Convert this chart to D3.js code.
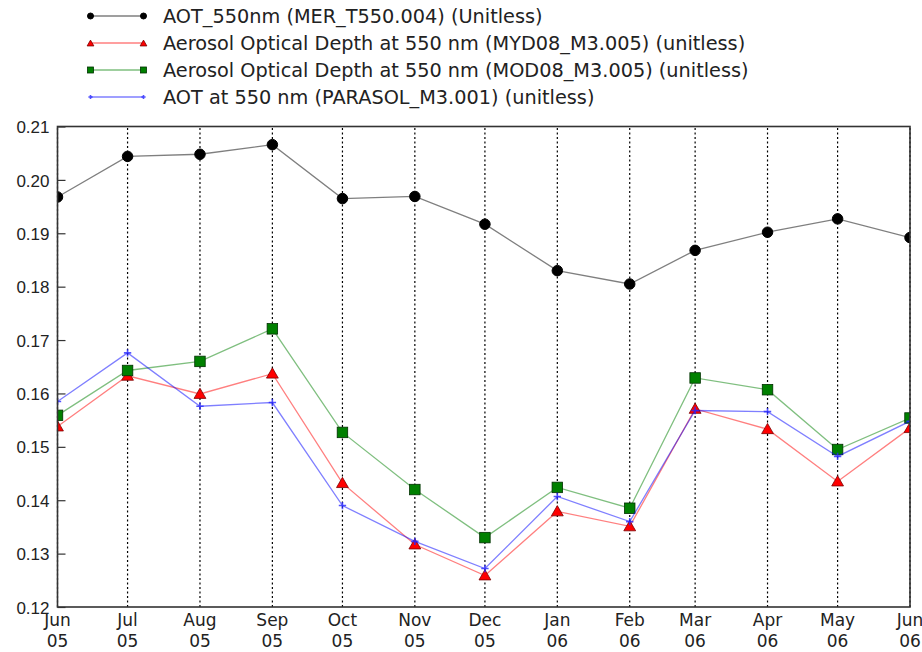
<!DOCTYPE html>
<html>
<head>
<meta charset="utf-8">
<script src="https://cdn.jsdelivr.net/npm/d3@7"></script>
<style>
  body { margin: 0; background: #fff; }
  svg { display: block; font-family: "DejaVu Sans", sans-serif; }
</style>
</head>
<body>
<div id="output"></div>
<script>
// monthly time steps (first of month)
const months = ["2005-06", "2005-07", "2005-08", "2005-09", "2005-10", "2005-11", "2005-12",
                "2006-01", "2006-02", "2006-03", "2006-04", "2006-05", "2006-06"];

// values
const merValues = [0.1968, 0.2044, 0.2048, 0.2066, 0.1965, 0.1969, 0.1917, 0.1830, 0.1805, 0.1868, 0.1902, 0.1927, 0.1892];
const mydValues = [0.1538, 0.1633, 0.1599, 0.1637, 0.1432, 0.1317, 0.1259, 0.1379, 0.1351, 0.1571, 0.1533, 0.1435, 0.1535];
const modValues = [0.1559, 0.1643, 0.1660, 0.1721, 0.1527, 0.1420, 0.1330, 0.1424, 0.1385, 0.1629, 0.1607, 0.1495, 0.1554];
const parasolValues = [0.1585, 0.1676, 0.1576, 0.1583, 0.1390, 0.1323, 0.1272, 0.1407, 0.1360, 0.1568, 0.1566, 0.1482, 0.1548];

const seriesNames = [
  "AOT_550nm (MER_T550.004) (Unitless)",
  "Aerosol Optical Depth at 550 nm (MYD08_M3.005) (unitless)",
  "Aerosol Optical Depth at 550 nm (MOD08_M3.005) (unitless)",
  "AOT at 550 nm (PARASOL_M3.001) (unitless)"
];

const yTicks = [0.12, 0.13, 0.14, 0.15, 0.16, 0.17, 0.18, 0.19, 0.20, 0.21];

const parseMonth = d3.timeParse("%Y-%m");
const dates = months.map(parseMonth);

const series = [
  { name: seriesNames[0], values: merValues, line: "rgba(0,0,0,0.5)", marker: "circle", fill: "#000", edge: "#000" },
  { name: seriesNames[1], values: mydValues, line: "rgba(255,0,0,0.5)", marker: "triangle", fill: "#ff0000", edge: "#7a0000" },
  { name: seriesNames[2], values: modValues, line: "rgba(0,128,0,0.5)", marker: "square", fill: "#008000", edge: "#003000" },
  { name: seriesNames[3], values: parasolValues, line: "rgba(0,0,255,0.5)", marker: "plus", fill: "none", edge: "rgba(40,40,255,0.8)" }
];

const width = 922, height = 652;
const margin = { top: 126.5, right: 12, bottom: 45, left: 57.5 };

const svg = d3.select("#output").append("svg")
  .attr("width", width)
  .attr("height", height);

const x = d3.scaleTime()
  .domain([dates[0], dates[dates.length - 1]])
  .range([margin.left, width - margin.right]);

const y = d3.scaleLinear()
  .domain([0.12, 0.21])
  .range([height - margin.bottom, margin.top]);

svg.append("clipPath").attr("id", "plotclip")
  .append("rect")
  .attr("x", margin.left).attr("y", margin.top)
  .attr("width", x.range()[1] - x.range()[0])
  .attr("height", y.range()[0] - y.range()[1]);

// dotted vertical grid at each month
svg.append("g")
  .selectAll("line")
  .data(dates)
  .join("line")
  .attr("x1", d => x(d)).attr("x2", d => x(d))
  .attr("y1", y.range()[0]).attr("y2", y.range()[1])
  .attr("stroke", "#000")
  .attr("stroke-width", 1.2)
  .attr("stroke-dasharray", "2,2.5");

// y axis (ticks pointing inward)
const yAxis = svg.append("g")
  .attr("transform", `translate(${margin.left},0)`)
  .call(d3.axisRight(y).tickValues(yTicks).tickSize(8).tickFormat(d3.format(".2f")));
yAxis.select(".domain").remove();
yAxis.selectAll("line").attr("stroke", "#333").attr("stroke-width", 1.2);
yAxis.selectAll("text")
  .attr("x", -8)
  .attr("text-anchor", "end")
  .attr("dy", "0.36em")
  .attr("fill", "#222")
  .style("font-size", "17px");

// x tick labels, two lines: month / year
const xLabels = svg.append("g")
  .selectAll("text")
  .data(dates)
  .join("text")
  .attr("x", d => x(d))
  .attr("text-anchor", "middle")
  .attr("fill", "#222")
  .style("font-size", "17px");
xLabels.append("tspan").attr("x", d => x(d)).attr("y", 626).text(d3.timeFormat("%b"));
xLabels.append("tspan").attr("x", d => x(d)).attr("y", 647).text(d3.timeFormat("%y"));

// marker drawing
function drawMarker(sel, s, size) {
  if (s.marker === "circle") {
    sel.append("circle").attr("r", size * 0.5).attr("fill", s.fill).attr("stroke", s.edge);
  } else if (s.marker === "triangle") {
    sel.append("path").attr("d", d3.symbol(d3.symbolTriangle, size * size * 0.55)())
      .attr("transform", "translate(0,1)")
      .attr("fill", s.fill).attr("stroke", s.edge).attr("stroke-width", 0.8);
  } else if (s.marker === "square") {
    sel.append("rect").attr("x", -size / 2).attr("y", -size / 2)
      .attr("width", size).attr("height", size)
      .attr("fill", s.fill).attr("stroke", s.edge).attr("stroke-width", 0.8);
  } else {
    const h = size * 0.35;
    sel.append("path").attr("d", `M${-h},0H${h}M0,${-h}V${h}`)
      .attr("stroke", s.edge).attr("stroke-width", 1.6).attr("fill", "none");
  }
}

const plot = svg.append("g").attr("clip-path", "url(#plotclip)");
const line = d3.line().x((d, i) => x(dates[i])).y(d => y(d));

series.forEach(s => {
  const g = plot.append("g");
  g.append("path")
    .attr("d", line(s.values))
    .attr("fill", "none")
    .attr("stroke", s.line)
    .attr("stroke-width", 1.3);
  g.selectAll("g.pt")
    .data(s.values)
    .join("g")
    .attr("class", "pt")
    .attr("transform", (d, i) => `translate(${x(dates[i])},${y(d)})`)
    .each(function () { drawMarker(d3.select(this), s, 10.5); });
});

// frame
svg.append("rect")
  .attr("x", margin.left).attr("y", margin.top)
  .attr("width", x.range()[1] - x.range()[0])
  .attr("height", y.range()[0] - y.range()[1])
  .attr("fill", "none")
  .attr("stroke", "#333")
  .attr("stroke-width", 1.6);

// legend
const legend = svg.append("g")
  .selectAll("g")
  .data(series)
  .join("g")
  .attr("transform", (d, i) => `translate(0,${16 + i * 27})`);
legend.append("line")
  .attr("x1", 90.5).attr("x2", 143.5)
  .attr("stroke", d => d.line).attr("stroke-width", 1.3);
legend.each(function (s) {
  [90.5, 143.5].forEach(px => {
    const m = d3.select(this).append("g").attr("transform", `translate(${px},0)`);
    drawMarker(m, s, 6);
  });
});
legend.append("text")
  .attr("x", 163)
  .attr("dy", "0.36em")
  .attr("fill", "#222")
  .style("font-size", "19.3px")
  .text(d => d.name);
</script>
</body>
</html>
